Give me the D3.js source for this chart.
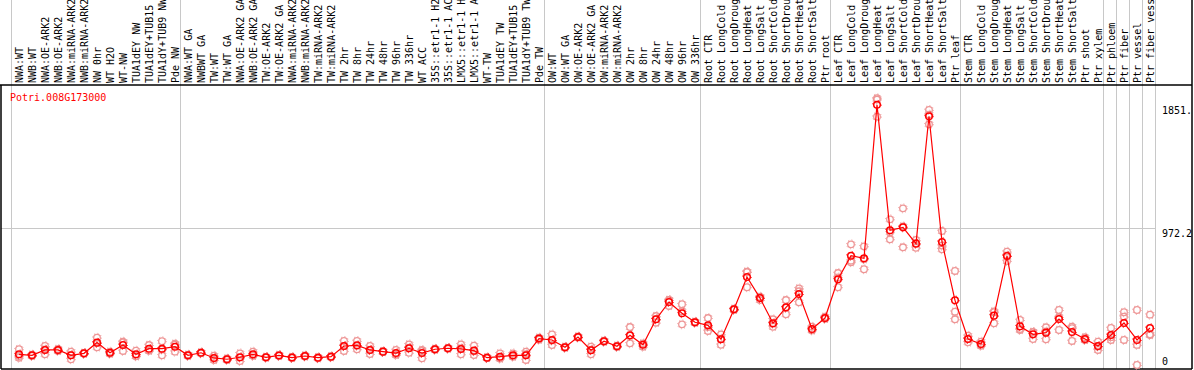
<!DOCTYPE html>
<html>
<head>
<meta charset="utf-8">
<script src="https://cdn.jsdelivr.net/npm/d3@7"></script>
<style>
  html, body { margin: 0; padding: 0; background: #fff; }
  svg { display: block; }
</style>
</head>
<body>
<div id="chart"></div>
<script>
(function () {
  "use strict";

  // sample columns, in the order they are drawn
  var samples = [
    "NWA:WT", "NWB:WT", "NWA:OE-ARK2", "NWB:OE-ARK2", "NWA:miRNA-ARK2", "NWB:miRNA-ARK2",
    "NW 0hr", "WT H2O", "WT-NW", "TUA1dEY NW", "TUA1dEY+TUB15 NW", "TUA1dY+TUB9 NW", "Pde NW",
    "NWA:WT GA", "NWBWT GA", "TW:WT", "TW:WT GA", "NWA:OE-ARK2 GA", "NWB:OE-ARK2 GA",
    "TW:OE-ARK2", "TW:OE-ARK2 GA", "NWA:miRNA-ARK2", "NWB:miRNA-ARK2", "TW:miRNA-ARK2", "TW:miRNA-ARK2",
    "TW 2hr", "TW 8hr", "TW 24hr", "TW 48hr", "TW 96hr", "TW 336hr", "WT ACC",
    "35S::etr1-1 H2O", "35S::etr1-1 ACC", "LMX5::etr1-1 H2O", "LMX5::etr1-1 ACC", "WT-TW",
    "TUA1dEY TW", "TUA1dEY+TUB15 TW", "TUA1dY+TUB9 TW", "Pde TW",
    "OW:WT", "OW:WT GA", "OW:OE-ARK2", "OW:OE-ARK2 GA", "OW:miRNA-ARK2", "OW:miRNA-ARK2",
    "OW 2hr", "OW 8hr", "OW 24hr", "OW 48hr", "OW 96hr", "OW 336hr",
    "Root CTR", "Root LongCold", "Root LongDrought", "Root LongHeat", "Root LongSalt",
    "Root ShortCold", "Root ShortDrought", "Root ShortHeat", "Root ShortSalt", "Ptr root",
    "Leaf CTR", "Leaf LongCold", "Leaf LongDrought", "Leaf LongHeat", "Leaf LongSalt",
    "Leaf ShortCold", "Leaf ShortDrought", "Leaf ShortHeat", "Leaf ShortSalt", "Ptr leaf",
    "Stem CTR", "Stem LongCold", "Stem LongDrought", "Stem LongHeat", "Stem LongSalt",
    "Stem ShortCold", "Stem ShortDrought", "Stem ShortHeat", "Stem ShortSalt", "Ptr shoot", "Ptr xylem",
    "Ptr phloem", "Ptr fiber", "Ptr vessel", "Ptr fiber vessel"
  ];

  // number of samples in each separated block
  var groupSizes = [13, 28, 12, 10, 10, 11, 1, 1, 1, 1];

  var geneName = "Potri.008G173000";

  // mean expression per sample
  var meanValues = [
    76, 69, 107, 107, 69, 83, 159, 87, 142, 76,
    116, 116, 130, 69, 87, 50, 41, 55, 76, 55,
    68, 53, 64, 52, 59, 135, 140, 107, 95, 85,
    119, 85, 112, 119, 114, 102, 52, 59, 69, 69,
    188, 178, 126, 199, 105, 169, 133, 211, 144, 325,
    448, 368, 304, 282, 183, 396, 626, 476, 297, 410,
    505, 256, 334, 610, 777, 759, 1851, 958, 979, 863,
    1769, 875, 460, 185, 149, 351, 775, 275, 218, 230,
    327, 235, 185, 135, 213, 299, 178, 263
  ];

  // replicates
  var rep1 = [
    112, 69, 135, 107, 95, 83, 194, 95, 166, 102,
    142, 169, 151, 69, 83, 66, 36, 83, 95, 52,
    72, 50, 60, 48, 55, 171, 171, 135, 92, 107,
    147, 107, 108, 115, 147, 137, 50, 83, 83, 95,
    180, 218, 122, 195, 130, 165, 128, 270, 130, 348,
    462, 432, 300, 334, 218, 392, 664, 462, 325, 462,
    545, 272, 343, 654, 858, 844, 1897, 1036, 1114, 889,
    1814, 953, 669, 208, 166, 375, 806, 320, 185, 268,
    391, 272, 197, 166, 263, 375, 391, 358
  ];
  var rep2 = [
    64, 64, 76, 100, 41, 80, 126, 80, 100, 64,
    105, 69, 95, 64, 90, 36, 46, 28, 66, 58,
    64, 57, 68, 55, 62, 100, 112, 78, 98, 76,
    87, 48, 116, 122, 76, 71, 55, 48, 59, 36,
    195, 142, 130, 203, 76, 173, 138, 154, 148, 301,
    420, 289, 308, 242, 144, 400, 553, 480, 272, 361,
    446, 250, 330, 553, 742, 681, 1888, 894, 837, 834,
    1781, 823, 379, 161, 137, 297, 740, 249, 235, 183,
    249, 171, 180, 107, 178, 178, 0, 213
  ];
  var rep3 = [
    52, 74, 110, 114, 71, 86, 157, 86, 160, 62,
    101, 110, 144, 74, 88, 48, 41, 54, 67, 55,
    68, 52, 64, 53, 60, 134, 137, 108, 95, 72,
    123, 100, 112, 120, 119, 98, 51, 46, 65, 76,
    189, 174, 126, 199, 109, 169, 133, 209, 154, 326,
    462, 383, 304, 270, 187, 396, 661, 486, 294, 407,
    524, 246, 329, 623, 731, 752, 1766, 944, 986, 866,
    1712, 849, 325, 186, 144, 381, 779, 256, 234, 239,
    341, 262, 178, 132, 198, 344, 143, 218
  ];

  var yMax = 1944.4;
  var gridValues = [972.2];
  var tickValues = [1851, 972.2, 0];
  var tickLabels = ["1851.", "972.2", "0"];

  var FONT = "'DejaVu Sans Mono', monospace";
  var W = 1194, H = 370;
  var HEAD = 85, BOTTOM = 369, LEFT = 1, RIGHT = 1192;

  var svg = d3.select("#chart").append("svg")
    .attr("width", W).attr("height", H)
    .style("background", "#fff");

  var x = d3.scaleBand()
    .domain(d3.range(samples.length))
    .range([11, 1155])
    .padding(0);
  var cx = function (i) { return x(i) + x.bandwidth() / 2 + 1.5; };

  var y = d3.scaleLinear().domain([0, yMax]).range([365, 91.6]);

  // group separators
  var starts = [];
  var acc = 0;
  groupSizes.forEach(function (n) { starts.push(x(acc)); acc += n; });
  starts.push(x.range()[1]);
  svg.selectAll("line.sep").data(starts).enter().append("line")
    .attr("class", "sep")
    .attr("x1", function (d) { return d + 0.5; }).attr("x2", function (d) { return d + 0.5; })
    .attr("y1", 0).attr("y2", BOTTOM)
    .attr("stroke", "#c8c8c8").attr("stroke-width", 1);

  // horizontal grid
  svg.selectAll("line.grid").data(gridValues).enter().append("line")
    .attr("class", "grid")
    .attr("x1", LEFT).attr("x2", x.range()[1])
    .attr("y1", function (d) { return Math.round(y(d)) + 0.5; })
    .attr("y2", function (d) { return Math.round(y(d)) + 0.5; })
    .attr("stroke", "#c8c8c8").attr("stroke-width", 1);

  // frame
  svg.append("line").attr("x1", 0).attr("x2", RIGHT).attr("y1", HEAD).attr("y2", HEAD)
    .attr("stroke", "#000").attr("stroke-width", 1.5);
  svg.append("line").attr("x1", LEFT).attr("x2", RIGHT).attr("y1", BOTTOM).attr("y2", BOTTOM)
    .attr("stroke", "#000").attr("stroke-width", 1.5);
  svg.append("line").attr("x1", LEFT).attr("x2", LEFT).attr("y1", HEAD).attr("y2", BOTTOM)
    .attr("stroke", "#000").attr("stroke-width", 1.5);
  svg.append("line").attr("x1", RIGHT).attr("x2", RIGHT).attr("y1", 0).attr("y2", BOTTOM)
    .attr("stroke", "#000").attr("stroke-width", 1.5);

  // sample labels (rotated, read bottom-up)
  svg.selectAll("text.sample").data(samples).enter().append("text")
    .attr("class", "sample")
    .attr("transform", function (d, i) {
      return "translate(" + (cx(i) + 3.5) + "," + (HEAD - 2) + ") rotate(-90)";
    })
    .attr("font-family", FONT).attr("font-size", "10px")
    .attr("fill", "#000")
    .text(function (d) { return d; });

  // gene name
  svg.append("text").attr("x", 10).attr("y", 101)
    .attr("font-family", FONT).attr("font-size", "10px")
    .attr("fill", "#ff0000").text(geneName);

  // right value labels
  tickValues.forEach(function (v, i) {
    svg.append("text")
      .attr("x", 1162)
      .attr("y", Math.min(y(v) + 9, y(0)))
      .attr("font-family", FONT).attr("font-size", "10px")
      .attr("fill", "#000").text(tickLabels[i]);
  });

  var plot = svg.append("g");

  // replicate markers
  var reps = [];
  [rep1, rep2, rep3].forEach(function (arr) {
    arr.forEach(function (v, i) { reps.push({ i: i, v: v }); });
  });
  plot.selectAll("circle.rep").data(reps).enter().append("circle")
    .attr("class", "rep")
    .attr("cx", function (d) { return cx(d.i); })
    .attr("cy", function (d) { return y(d.v); })
    .attr("r", 3.3)
    .attr("fill", "none").attr("stroke", "#ee9696").attr("stroke-width", 1.3);
  plot.selectAll("circle.repTick").data(reps).enter().append("circle")
    .attr("class", "repTick")
    .attr("cx", function (d) { return cx(d.i); })
    .attr("cy", function (d) { return y(d.v); })
    .attr("r", 4.4)
    .attr("fill", "none").attr("stroke", "#ee9696").attr("stroke-width", 1)
    .attr("stroke-dasharray", "1 2.45");

  // mean line
  var line = d3.line()
    .x(function (d, i) { return cx(i); })
    .y(function (d) { return y(d); });
  plot.append("path").datum(meanValues)
    .attr("d", line)
    .attr("fill", "none").attr("stroke", "#ff0000").attr("stroke-width", 1.2);

  // mean markers
  plot.selectAll("circle.mean").data(meanValues).enter().append("circle")
    .attr("class", "mean")
    .attr("cx", function (d, i) { return cx(i); })
    .attr("cy", function (d) { return y(d); })
    .attr("r", 3.3)
    .attr("fill", "none").attr("stroke", "#ff0000").attr("stroke-width", 1.5);
  plot.selectAll("circle.meanTick").data(meanValues).enter().append("circle")
    .attr("class", "meanTick")
    .attr("cx", function (d, i) { return cx(i); })
    .attr("cy", function (d) { return y(d); })
    .attr("r", 4.4)
    .attr("fill", "none").attr("stroke", "#ff0000").attr("stroke-width", 1)
    .attr("stroke-dasharray", "1 6");
})();
</script>
</body>
</html>
